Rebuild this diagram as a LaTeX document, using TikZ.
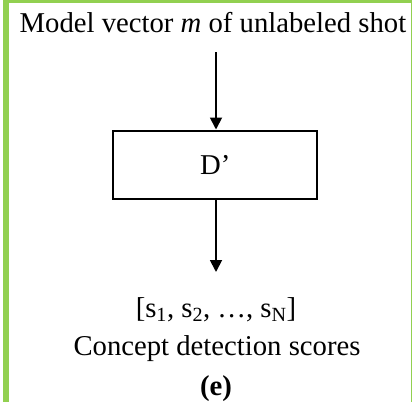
\documentclass[tikz,border=0pt]{standalone}
\usepackage{fontspec}
\setmainfont{Liberation Serif}
\usetikzlibrary{arrows.meta}
\definecolor{framegreen}{HTML}{92D050}
\begin{document}
\begin{tikzpicture}[x=1pt,y=-1pt,
  lbl/.style={anchor=base,inner sep=0pt,font=\fontsize{28.7}{34}\selectfont},
  conn/.style={line width=1.8pt,-{Triangle[length=12pt,width=12pt]}},
  boxnode/.style={draw,line width=2pt,minimum width=204pt,minimum height=68pt,inner sep=0pt,font=\fontsize{28.7}{34}\selectfont}]
\useasboundingbox (0,0) rectangle (413,402);
\fill[framegreen] (3,0) rectangle (9,402);
\fill[framegreen] (3,0) rectangle (412,2.7);
\fill[framegreen] (410.6,0) rectangle (412,402);
\node[lbl] (top) at (213,32) {Model vector \textit{m} of unlabeled shot};
\coordinate (a1s) at (216,52);
\node[boxnode] (D) at (215.3,164.5) {D’};
\coordinate (a2e) at (216,272);
\draw[conn] (a1s) -- (a1s |- D.north);
\draw[conn] (D.south -| a2e) -- (a2e);
\node[lbl] (scores) at (216,317) {[s\textsubscript{1}, s\textsubscript{2}, …, s\textsubscript{N}]};
\node[lbl] (concept) at (217,355) {Concept detection scores};
\node[lbl] (e) at (216,395) {\textbf{(e)}};
\end{tikzpicture}
\end{document}
